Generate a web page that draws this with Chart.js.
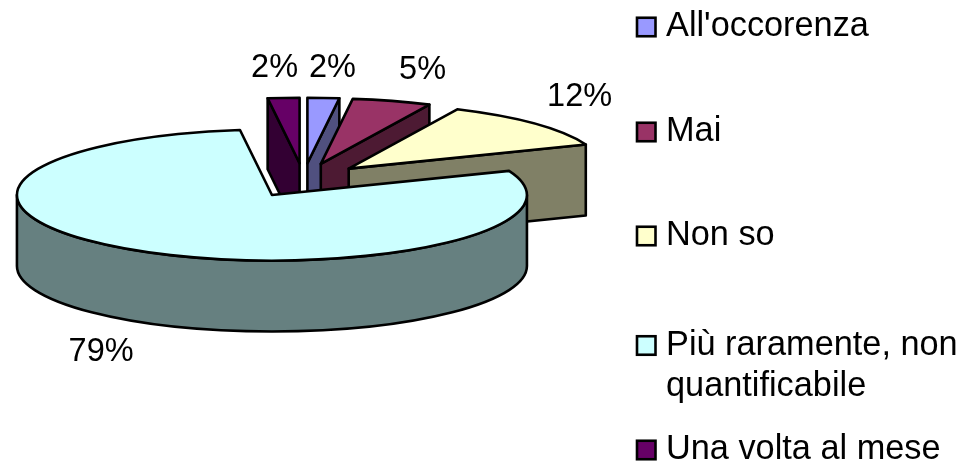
<!DOCTYPE html>
<html>
<head>
<meta charset="utf-8">
<style>html,body{margin:0;padding:0;background:#fff}canvas{display:block}</style>
<script src="https://cdn.jsdelivr.net/npm/chart.js@4"></script>
</head>
<body>
<canvas id="c" width="962" height="464"></canvas>
<script>
const categories = ["All'occorenza", "Mai", "Non so", "Più raramente, non quantificabile", "Una volta al mese"];
const values = [2, 5, 12, 79, 2];
const topColors = ["#9999FF", "#993366", "#FFFFCC", "#CCFFFF", "#660066"];
const wallColors = ["#50507F", "#4D1A33", "#808066", "#668080", "#330033"];
const legendLines = [["All'occorenza"], ["Mai"], ["Non so"], ["Più raramente, non", "quantificabile"], ["Una volta al mese"]];

const FONT = '"Liberation Sans", Arial, sans-serif';
const pie3d = {squash: 0.257, explodeSquash: 0.275, explode: 62, depth: 71, line: 2.6, order: [4, 0, 1, 2, 3]};
const labelNudge = [[9, -30], [30.6, -30.5], [45, -26.5], [-41, 100.5], [-9, -29.5]];
const legendStyle = {boxX: 637, boxSize: 18.5, textX: 666, lineGap: 41, font: 34.3, centers: [27, 132, 236, 345.5, 450]};

function geom(el) {
  const p = el.getProps(['x', 'y', 'startAngle', 'endAngle', 'outerRadius'], true);
  const mid = (p.startAngle + p.endAngle) / 2;
  return {
    cx: p.x, cy: p.y, s: p.startAngle, e: p.endAngle, r: p.outerRadius, mid,
    ax: p.x + pie3d.explode * Math.cos(mid),
    ay: p.y + pie3d.explode * Math.sin(mid) * pie3d.explodeSquash
  };
}
function rim(g, a) { return [g.ax + g.r * Math.cos(a), g.ay + g.r * pie3d.squash * Math.sin(a)]; }
function faceVisible(a, side) {
  // outward normal of a radial edge points toward the viewer when its screen-y is positive
  const ny = side > 0 ? Math.cos(a) : -Math.cos(a);
  return ny > 1e-6;
}

const pie3dPlugin = {
  id: 'pie3d',
  beforeDatasetDraw(chart, args) {
    const ctx = chart.ctx, meta = args.meta, k = pie3d.squash, d = pie3d.depth;
    ctx.save();
    ctx.lineWidth = pie3d.line;
    ctx.lineJoin = 'round';
    ctx.strokeStyle = '#000';
    const paint = (fill) => { ctx.fillStyle = fill; ctx.fill(); ctx.stroke(); };
    pie3d.order.forEach(i => {
      const g = geom(meta.data[i]);
      const wall = wallColors[i];
      // radial faces
      [[g.s, -1], [g.e, 1]].forEach(([a, side]) => {
        if (faceVisible(a, side)) {
          const [x, y] = rim(g, a);
          ctx.beginPath();
          ctx.moveTo(g.ax, g.ay); ctx.lineTo(x, y); ctx.lineTo(x, y + d); ctx.lineTo(g.ax, g.ay + d);
          ctx.closePath();
          paint(wall);
        }
      });
      // curved outer face: only the part on the viewer's side
      const a0 = Math.max(g.s, 0), a1 = Math.min(g.e, Math.PI);
      if (a1 > a0) {
        ctx.beginPath();
        ctx.ellipse(g.ax, g.ay, g.r, g.r * k, 0, a0, a1);
        ctx.ellipse(g.ax, g.ay + d, g.r, g.r * k, 0, a1, a0, true);
        ctx.closePath();
        paint(wall);
      }
      // top face: drawn by the library's own arc element under a squashing transform
      ctx.save();
      ctx.translate(g.ax, g.ay);
      ctx.scale(1, k);
      ctx.translate(-g.cx, -g.cy);
      meta.data[i].draw(ctx);
      ctx.restore();
      ctx.beginPath();
      ctx.moveTo(g.ax, g.ay);
      ctx.ellipse(g.ax, g.ay, g.r, g.r * k, 0, g.s, g.e);
      ctx.closePath();
      ctx.stroke();
    });
    ctx.restore();
    return false;
  },
  afterDraw(chart) {
    const ctx = chart.ctx, meta = chart.getDatasetMeta(0);
    const total = values.reduce((a, b) => a + b, 0);
    ctx.save();
    ctx.fillStyle = '#000';
    ctx.textAlign = 'center';
    ctx.textBaseline = 'middle';
    ctx.font = '32.5px ' + FONT;
    meta.data.forEach((el, i) => {
      const g = geom(el);
      const [x, y] = rim(g, g.mid);
      ctx.fillText(Math.round(values[i] / total * 100) + '%', x + labelNudge[i][0], y + labelNudge[i][1]);
    });
    // legend
    const L = legendStyle;
    ctx.textAlign = 'left';
    ctx.textBaseline = 'alphabetic';
    ctx.font = L.font + 'px ' + FONT;
    legendLines.forEach((lines, i) => {
      const c = L.centers[i];
      ctx.fillStyle = chart.data.datasets[0].backgroundColor[i];
      ctx.fillRect(L.boxX, c - L.boxSize / 2, L.boxSize, L.boxSize);
      ctx.lineWidth = 2.6;
      ctx.strokeStyle = '#000';
      ctx.strokeRect(L.boxX, c - L.boxSize / 2, L.boxSize, L.boxSize);
      ctx.fillStyle = '#000';
      lines.forEach((t, j) => ctx.fillText(t, L.textX, c + 9 + j * L.lineGap));
    });
    ctx.restore();
  }
};

new Chart(document.getElementById('c'), {
  type: 'pie',
  data: {labels: categories, datasets: [{data: values, backgroundColor: topColors, borderWidth: 0}]},
  options: {
    responsive: false,
    animation: false,
    radius: 255,
    layout: {padding: {right: 355, bottom: 103.4}},
    plugins: {legend: {display: false}, tooltip: {enabled: false}}
  },
  plugins: [pie3dPlugin]
});
</script>
</body>
</html>
